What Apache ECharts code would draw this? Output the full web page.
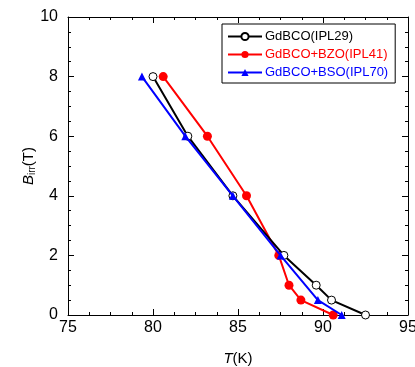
<!DOCTYPE html>
<html><head><meta charset="utf-8">
<script src="https://cdn.jsdelivr.net/npm/echarts@6/dist/echarts.min.js"></script>
<style>html,body{margin:0;padding:0;background:#fff}#c{width:415px;height:367px}</style>
</head><body><div id="c"></div>
<script>
const seriesNames = ['GdBCO(IPL29)', 'GdBCO+BZO(IPL41)', 'GdBCO+BSO(IPL70)'];
const blackT = [80.0, 82.05, 84.7, 87.7, 89.6, 90.5, 92.5];
const blackB = [8, 6, 4, 2, 1, 0.5, 0];
const redT = [80.6, 83.2, 85.5, 87.4, 88.0, 88.7, 90.6];
const redB = [8, 6, 4, 2, 1, 0.5, 0];
const blueT = [79.35, 81.9, 84.7, 87.5, 89.7, 91.1];
const blueB = [8, 6, 4, 2, 0.5, 0];
const xTicks = [75, 80, 85, 90, 95];
const yTicks = [0, 2, 4, 6, 8, 10];

const pairs = (xs, ys) => xs.map((x, i) => [x, ys[i]]);
const font = 'Liberation Sans, Arial, sans-serif';
const colors = ['#000000', '#ff0000', '#0000ff'];

const chart = echarts.init(document.getElementById('c'), null, {renderer: 'canvas'});
const axisCommon = {
  nameMoveOverlap: false,
  axisLine: {show: true, onZero: false, lineStyle: {color: '#000', width: 1}},
  axisTick: {show: true, inside: true, length: 6, lineStyle: {color: '#000'}},
  minorTick: {show: true, splitNumber: 4, length: 3, lineStyle: {color: '#000'}},
  splitLine: {show: false}
};
chart.setOption({
  animation: false,
  grid: {left: 68, right: 7, top: 17, bottom: 52, containLabel: false, outerBoundsMode: 'none'},
  legend: {
    show: true, orient: 'vertical', left: 222, top: 24,
    itemWidth: 34, itemHeight: 9, itemGap: 5,
    borderColor: '#000', borderWidth: 1, padding: [6, 7, 4, 5],
    textStyle: {fontFamily: font, fontSize: 13, padding: [0, 0, 0, -2]},
    data: seriesNames.map((n, i) => ({name: n, textStyle: {color: colors[i]}}))
  },
  xAxis: [
    Object.assign({type: 'value', min: xTicks[0], max: xTicks[xTicks.length - 1], interval: 5, position: 'bottom',
      name: '{i|T}(K)', nameLocation: 'middle', nameGap: 36,
      nameTextStyle: {fontFamily: font, fontSize: 15, color: '#000', rich: {i: {fontStyle: 'italic', fontFamily: font, fontSize: 15}}},
      axisLabel: {fontFamily: font, fontSize: 16, color: '#000', margin: 5}}, axisCommon),
    Object.assign({type: 'value', min: xTicks[0], max: xTicks[xTicks.length - 1], interval: 5, position: 'top',
      axisLabel: {show: false}}, axisCommon)
  ],
  yAxis: [
    Object.assign({type: 'value', min: yTicks[0], max: yTicks[yTicks.length - 1], interval: 2, position: 'left',
      name: '{i|B}{s|irr}(T)', nameLocation: 'middle', nameGap: 31, nameRotate: 90,
      nameTextStyle: {fontFamily: font, fontSize: 15, color: '#000',
        rich: {i: {fontStyle: 'italic', fontFamily: font, fontSize: 15}, s: {fontFamily: font, fontSize: 10, verticalAlign: 'bottom', padding: [7, 0, 0, 0]}}},
      axisLabel: {fontFamily: font, fontSize: 16, color: '#000', margin: 10}}, axisCommon),
    Object.assign({type: 'value', min: yTicks[0], max: yTicks[yTicks.length - 1], interval: 2, position: 'right',
      axisLabel: {show: false}}, axisCommon)
  ],
  series: [
    {name: seriesNames[0], type: 'line', data: pairs(blackT, blackB), color: colors[0],
      symbol: 'circle', symbolSize: 8, lineStyle: {width: 2, color: colors[0]},
      itemStyle: {color: '#fff', borderColor: colors[0], borderWidth: 1}, z: 3},
    {name: seriesNames[1], type: 'line', data: pairs(redT, redB), color: colors[1],
      symbol: 'circle', symbolSize: 9, lineStyle: {width: 2, color: colors[1]},
      itemStyle: {color: colors[1], borderColor: colors[1], borderWidth: 0}, z: 2},
    {name: seriesNames[2], type: 'line', data: pairs(blueT, blueB), color: colors[2],
      symbol: 'triangle', symbolSize: 8, lineStyle: {width: 2, color: colors[2]},
      itemStyle: {color: colors[2], borderColor: colors[2], borderWidth: 0}, z: 4}
  ]
});
</script></body></html>
